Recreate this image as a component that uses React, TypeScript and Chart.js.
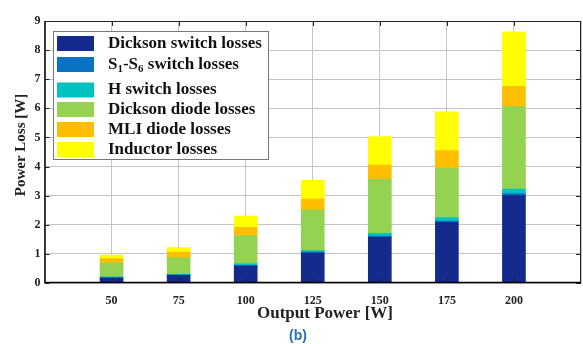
import React, { useEffect, useRef } from "react";
import { Chart, registerables } from "chart.js";

Chart.register(...registerables);

const categories = [50, 75, 100, 125, 150, 175, 200];
const dicksonSwitch = [0.17, 0.26, 0.58, 1.03, 1.57, 2.08, 3.0];
const s1s6Switch = [0.02, 0.02, 0.03, 0.03, 0.04, 0.05, 0.07];
const hSwitch = [0.02, 0.02, 0.05, 0.05, 0.1, 0.12, 0.16];
const dicksonDiode = [0.48, 0.57, 0.97, 1.4, 1.85, 1.7, 2.83];
const mliDiode = [0.15, 0.19, 0.28, 0.37, 0.49, 0.6, 0.7];
const inductor = [0.12, 0.16, 0.39, 0.65, 0.98, 1.33, 1.87];
const yTicks = [0, 1, 2, 3, 4, 5, 6, 7, 8, 9];

const seriesNames = [
  "Dickson switch losses",
  "S1-S6 switch losses",
  "H switch losses",
  "Dickson diode losses",
  "MLI diode losses",
  "Inductor losses",
];
const seriesColors = ["#142a8c", "#0a72c2", "#00c2c0", "#94d352", "#ffbf00", "#ffff00"];
const seriesData = [dicksonSwitch, s1s6Switch, hSwitch, dicksonDiode, mliDiode, inductor];

const SERIF = '"Liberation Serif", "Times New Roman", serif';

const decorPlugin = {
  id: "decor",
  afterDraw(chart: any) {
    const ctx = chart.ctx;
    const { left, right, top, bottom } = chart.chartArea;
    const xs = chart.scales.x;
    const ys = chart.scales.y;
    ctx.save();
    // frame
    ctx.strokeStyle = "#222";
    ctx.lineWidth = 1;
    ctx.beginPath();
    ctx.moveTo(left + 0.5, top + 0.5);
    ctx.lineTo(right - 0.5, top + 0.5);
    ctx.lineTo(right - 0.5, bottom - 0.5);
    ctx.stroke();
    ctx.strokeStyle = "#000";
    ctx.lineWidth = 1.5;
    ctx.beginPath();
    ctx.moveTo(left + 0.5, top);
    ctx.lineTo(left + 0.5, bottom - 0.5);
    ctx.lineTo(right, bottom - 0.5);
    ctx.stroke();
    // inner ticks
    ctx.lineWidth = 1;
    ctx.strokeStyle = "#222";
    ctx.beginPath();
    categories.forEach((c) => {
      const px = Math.round(xs.getPixelForValue(c)) + 0.5;
      ctx.moveTo(px, bottom);
      ctx.lineTo(px, bottom - 5);
      ctx.moveTo(px, top);
      ctx.lineTo(px, top + 5);
    });
    yTicks.forEach((t) => {
      const py = Math.round(ys.getPixelForValue(t)) + 0.5;
      ctx.moveTo(left, py);
      ctx.lineTo(left + 5, py);
      ctx.moveTo(right, py);
      ctx.lineTo(right - 5, py);
    });
    ctx.stroke();

    // axis titles
    ctx.fillStyle = "#222";
    ctx.font = `bold 17px ${SERIF}`;
    ctx.textAlign = "center";
    ctx.textBaseline = "middle";
    ctx.fillText("Output Power [W]", 325, 314);
    ctx.save();
    ctx.translate(21, 145);
    ctx.rotate(-Math.PI / 2);
    ctx.font = `bold 15px ${SERIF}`;
    ctx.fillText("Power Loss [W]", 0, 0);
    ctx.restore();

    // caption
    ctx.fillStyle = "#2a6fb8";
    ctx.font = 'bold 14px "Liberation Sans", Arial, sans-serif';
    ctx.fillText("(b)", 298, 336);

    // legend
    const lx = 53, ly = 31, lw = 215, lh = 128;
    ctx.fillStyle = "#fff";
    ctx.fillRect(lx, ly, lw, lh);
    ctx.strokeStyle = "#777";
    ctx.lineWidth = 1;
    ctx.strokeRect(lx + 0.5, ly + 0.5, lw, lh);
    const rows = [43.5, 64.5, 90, 109.5, 129.5, 149.5];
    ctx.textAlign = "left";
    ctx.textBaseline = "middle";
    seriesNames.forEach((name, i) => {
      const cy = rows[i];
      ctx.fillStyle = seriesColors[i];
      ctx.fillRect(57, cy - 7.5, 37, 15);
      ctx.fillStyle = "#111";
      const tx = 108;
      const big = `bold 17px ${SERIF}`;
      if (i === 1) {
        let x = tx;
        const small = `bold 11px ${SERIF}`;
        const parts: [string, boolean][] = [["S", false], ["1", true], ["-S", false], ["6", true], [" switch losses", false]];
        parts.forEach(([t, sub]) => {
          ctx.font = sub ? small : big;
          ctx.fillText(t, x, sub ? cy + 5 : cy);
          x += ctx.measureText(t).width;
        });
      } else {
        ctx.font = big;
        ctx.fillText(name, tx, cy);
      }
    });
    ctx.restore();
  },
};

export default function App() {
  const ref = useRef<HTMLCanvasElement | null>(null);
  useEffect(() => {
    document.body.style.margin = "0";
    const canvas = ref.current!;
    const chart = new Chart(canvas, {
      type: "bar",
      data: {
        datasets: seriesNames.map((name, i) => ({
          label: name,
          data: categories.map((c, j) => ({ x: c, y: seriesData[i][j] })),
          backgroundColor: seriesColors[i],
          borderWidth: 0,
          barThickness: 23,
        })),
      },
      options: {
        animation: false,
        responsive: false,
        devicePixelRatio: 1,
        layout: { padding: { top: 21, right: 2, left: 0, bottom: 0 } },
        plugins: { legend: { display: false }, tooltip: { enabled: false } },
        scales: {
          x: {
            type: "linear",
            stacked: true,
            offset: false,
            min: 25,
            max: 225,
            afterFit: (s: any) => { s.height = 61; s.paddingLeft = 0; s.paddingRight = 0; },
            ticks: {
              stepSize: 25,
              padding: 11,
              color: "#222",
              font: { family: SERIF, size: 12, weight: "bold" },
              callback: (v: any) => (v === 25 || v === 225 ? "" : String(v)),
              maxRotation: 0,
            },
            grid: { color: "#c4c4c4", drawTicks: false, offset: false },
            border: { display: false },
          },
          y: {
            stacked: true,
            min: 0,
            max: 9,
            afterFit: (s: any) => { s.width = 44.5; },
            ticks: {
              stepSize: 1,
              padding: 4,
              color: "#222",
              font: { family: SERIF, size: 12, weight: "bold" },
            },
            grid: { color: "#c4c4c4", drawTicks: false },
            border: { display: false },
          },
        },
      },
      plugins: [decorPlugin],
    } as any);
    return () => chart.destroy();
  }, []);
  return (
    <div style={{ width: 583, height: 344, background: "#fff" }}>
      <canvas ref={ref} width={583} height={344} />
    </div>
  );
}
